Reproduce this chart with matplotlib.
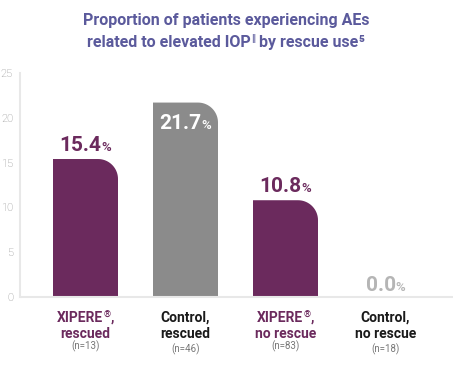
import numpy as np
import matplotlib
matplotlib.use("Agg")
import matplotlib.pyplot as plt
from matplotlib.path import Path
from matplotlib.patches import PathPatch
from matplotlib.transforms import IdentityTransform

# data
groups = ["XIPERE\u00ae,\nrescued", "Control,\nrescued", "XIPERE\u00ae,\nno rescue", "Control,\nno rescue"]
n_labels = ["(n=13)", "(n=46)", "(n=83)", "(n=18)"]
values = [15.4, 21.7, 10.8, 0.0]
is_xipere = [True, False, True, False]

PURPLE = "#6b2a5d"
GRAY_BAR = "#8b8b8b"
TITLE_C = "#5b5a9c"

plt.rcParams['font.family'] = ['Roboto', 'DejaVu Sans']

fig = plt.figure(figsize=(4.53, 3.77), dpi=100)
ax = fig.add_axes([20 / 453, 80 / 377, 433 / 453, 224 / 377])
ax.set_xlim(-0.655, 3.675)
ax.set_ylim(0, 25)
ax.set_yticks([0, 5, 10, 15, 20, 25])
ax.set_xticks([])
ax.tick_params(axis='y', length=0, pad=5, labelsize=8, labelcolor="#8a8a8a")
for lab in ax.get_yticklabels():
    lab.set_fontweight('light')
for s in ['top', 'right']:
    ax.spines[s].set_visible(False)
for s in ['left', 'bottom']:
    ax.spines[s].set_color("#e8e8e8")
    ax.spines[s].set_linewidth(1.5)

# pixel -> data scale for the rounded corner
p0 = ax.transData.transform((0, 0))
p1 = ax.transData.transform((1, 1))
px_x = p1[0] - p0[0]
px_y = p1[1] - p0[1]
r_px = 20
rx, ry = r_px / px_x, r_px / px_y
width = 0.65

for i, (v, xi) in enumerate(zip(values, is_xipere)):
    if v <= 0:
        continue
    x0, x1 = i - width / 2, i + width / 2
    t = np.linspace(np.pi / 2, 0, 20)
    arc = [(x1 - rx + rx * np.cos(a), v - ry + ry * np.sin(a)) for a in t]
    verts = [(x0, 0), (x0, v)] + arc + [(x1, 0), (x0, 0)]
    codes = [Path.MOVETO] + [Path.LINETO] * (len(verts) - 2) + [Path.CLOSEPOLY]
    ax.add_patch(PathPatch(Path(verts, codes), facecolor=PURPLE if xi else GRAY_BAR,
                           edgecolor='none'))


def put_runs(x, y, runs, ha='center'):
    """Place text runs side by side (pixel coords), baseline aligned.
    runs: (text, props, raise_px)"""
    txts = [fig.text(0, 0, s, transform=IdentityTransform(), va='baseline', **kw)
            for s, kw, _ in runs]
    fig.canvas.draw()
    r = fig.canvas.get_renderer()
    ws = [t.get_window_extent(r).width for t in txts]
    total = sum(ws)
    cx = x - total / 2 if ha == 'center' else x
    for t, w, (_, _, up) in zip(txts, ws, runs):
        t.set_position((cx, y + up))
        cx += w


H = 377
# value labels
for i, (v, xi) in enumerate(zip(values, is_xipere)):
    cx = ax.transData.transform((i, 0))[0]
    top = ax.transData.transform((0, v))[1]
    if i == 1:
        y = top - 26
        col = 'white'
    elif v == 0:
        y = top + 6
        col = "#b5b5b5"
    else:
        y = top + 8
        col = PURPLE
    put_runs(cx, y, [(f"{v:.1f}", dict(fontsize=15, fontweight='bold', color=col), 0),
                     ("%", dict(fontsize=9.5, fontweight='medium', color=col), 0)])

# category labels
for i, (g, n, xi) in enumerate(zip(groups, n_labels, is_xipere)):
    cx = ax.transData.transform((i, 0))[0]
    l1, l2 = g.split("\n")
    col = PURPLE if xi else "#1a1a1a"
    lkw = dict(fontsize=10, fontweight='bold', color=col)
    if "\u00ae" in l1:
        a, b = l1.split("\u00ae")
        put_runs(cx, H - 322, [(a, lkw, 0),
                               ("\u00ae", dict(fontsize=6.5, fontweight='bold', color=col), 4),
                               (b, lkw, 0)])
    else:
        fig.text(cx, H - 322, l1, transform=IdentityTransform(), ha='center',
                 va='baseline', **lkw)
    fig.text(cx, H - 338, l2, transform=IdentityTransform(), ha='center', va='baseline',
             **lkw)
    fig.text(cx, H - 349 - (3 if not xi else 0), n, transform=IdentityTransform(),
             ha='center', va='baseline', fontsize=7, color="#777777")

# title
tkw = dict(fontsize=11.5, fontweight='bold', color=TITLE_C)
put_runs(226, H - 25, [("Proportion of patients experiencing AEs", tkw, 0)])
put_runs(226, H - 47, [("related to elevated IOP", tkw, 0),
                       ("\u2016", dict(fontsize=7, fontweight='bold', color=TITLE_C), 5),
                       (" by rescue use", tkw, 0),
                       ("\u2075", dict(fontsize=11.5, fontweight='bold', color=TITLE_C), 0)])

fig.savefig("out.png", dpi=100)
